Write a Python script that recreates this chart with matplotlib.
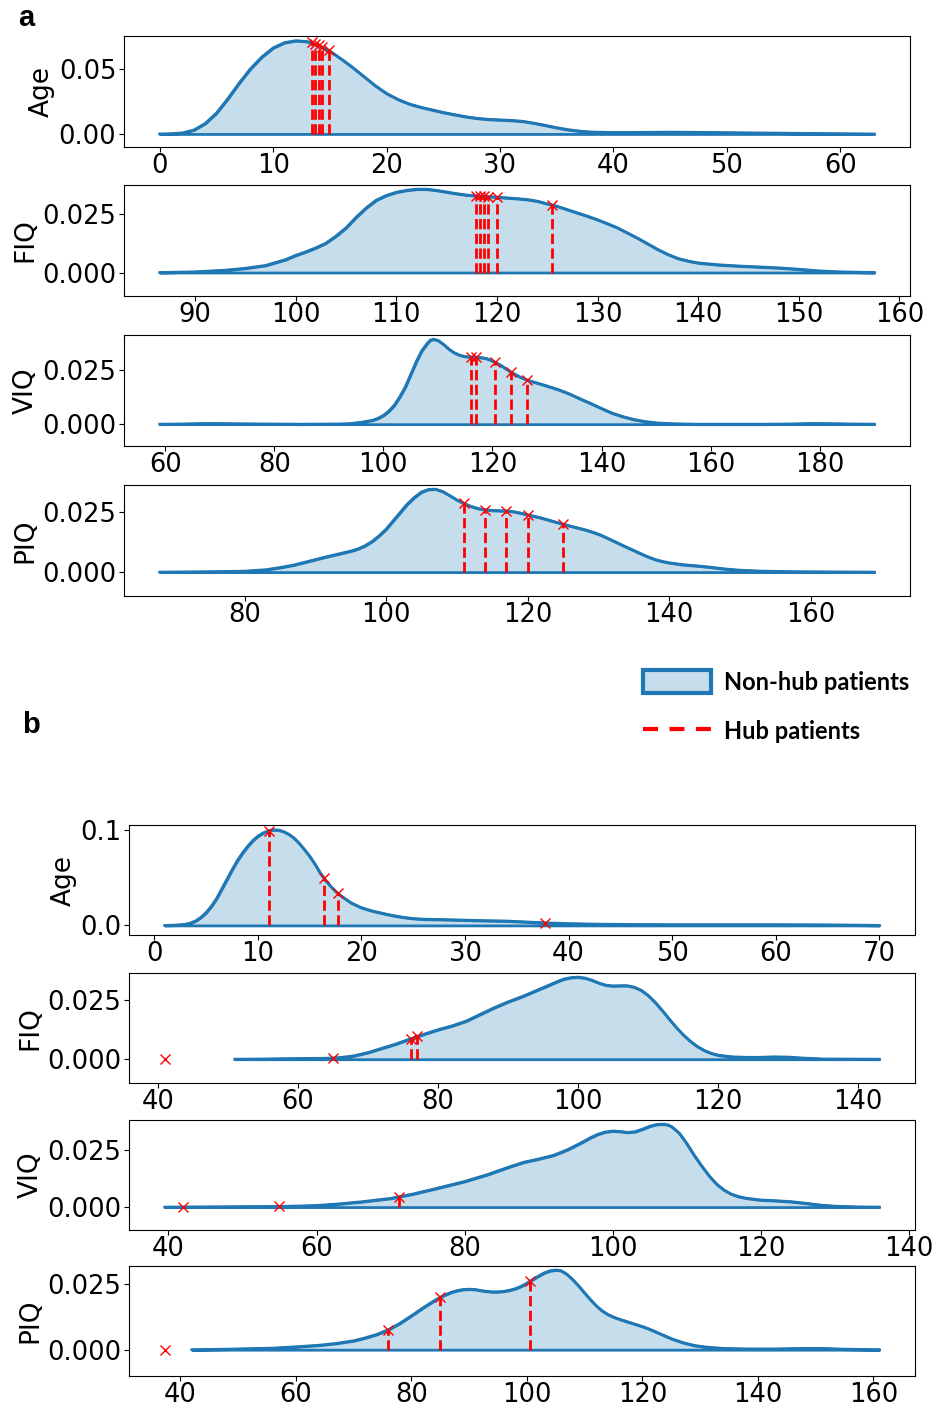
import matplotlib.pyplot as plt
from matplotlib.patches import Patch
from matplotlib.lines import Line2D

# Density curves (non-hub patients) and hub patient values -----------------

# cohort a
a_age_x = [0, 1, 2, 3, 4, 5, 6, 7, 8, 9, 10, 11, 12, 13, 14, 15, 16, 17, 18, 19, 20,
           21, 22, 23, 24, 25, 26, 27, 28, 29, 30, 31, 32, 33, 34, 35, 36, 37, 38, 40,
           42, 45, 48, 50, 55, 60, 63]
a_age_y = [0, 0.0002, 0.0008, 0.003, 0.008, 0.016, 0.027, 0.039, 0.050, 0.059, 0.066,
           0.0700, 0.0715, 0.0708, 0.068, 0.0635, 0.0575, 0.051, 0.044, 0.037, 0.031,
           0.0265, 0.023, 0.0205, 0.0185, 0.0165, 0.0148, 0.0132, 0.012, 0.0112, 0.0108,
           0.0104, 0.0097, 0.0083, 0.0066, 0.0048, 0.0033, 0.0022, 0.0015, 0.0011,
           0.0012, 0.0014, 0.0012, 0.001, 0.0006, 0.0002, 0]
a_age_hub_x = [13.4, 13.7, 14.0, 14.3, 14.9]
a_age_hub_y = [0.0701, 0.0692, 0.0680, 0.0667, 0.0640]

a_fiq_x = [86.5, 90, 93, 95, 97, 99, 100, 101, 102, 103, 104, 105, 106, 107, 108, 109,
           110, 111, 112, 113, 114, 115, 116, 117, 118, 119, 120, 121, 122, 123, 124,
           125, 126, 127, 128, 129, 130, 131, 132, 133, 134, 135, 136, 137, 138, 139,
           140, 142, 144, 146, 148, 150, 152, 154, 157.5]
a_fiq_y = [0, 0.0003, 0.001, 0.0018, 0.003, 0.0055, 0.0073, 0.0088, 0.0105, 0.0125,
           0.0155, 0.019, 0.0235, 0.0275, 0.0308, 0.0328, 0.0342, 0.035, 0.0355, 0.0355,
           0.035, 0.0343, 0.0336, 0.033, 0.0327, 0.0324, 0.0321, 0.0318, 0.0315, 0.0311,
           0.0304, 0.0293, 0.0282, 0.0268, 0.0254, 0.024, 0.0225, 0.0208, 0.019, 0.0168,
           0.0146, 0.0122, 0.0098, 0.0077, 0.006, 0.0049, 0.0041, 0.0033, 0.0028, 0.0024,
           0.002, 0.0014, 0.0007, 0.0003, 0]
a_fiq_hub_x = [117.9, 118.3, 118.7, 119.1, 120.0, 125.5]
a_fiq_hub_y = [0.0327, 0.0326, 0.0325, 0.0323, 0.0321, 0.0288]

a_viq_x = [59, 63, 67, 70, 73, 78, 85, 92, 94, 96, 98, 99, 100, 101, 102, 103, 104, 105,
           106, 107, 108, 108.6, 109.2, 110, 111, 112, 113, 114, 115, 116, 117, 118, 119,
           120, 121, 122, 123, 124, 125, 126, 127, 128, 130, 132, 134, 136, 138, 140,
           142, 144, 146, 148, 150, 153, 157, 170, 175, 178, 180, 183, 186, 190]
a_viq_y = [0, 0.0001, 0.0003, 0.0003, 0.0002, 0.0001, 0, 0.0001, 0.0003, 0.0009, 0.0018,
           0.0027, 0.004, 0.006, 0.0087, 0.0125, 0.017, 0.0227, 0.0285, 0.0335, 0.0369,
           0.0385, 0.0389, 0.0384, 0.0366, 0.0344, 0.0327, 0.0316, 0.031, 0.0308, 0.0307,
           0.0305, 0.03, 0.029, 0.0277, 0.0262, 0.0245, 0.023, 0.0217, 0.0206, 0.0197,
           0.019, 0.0175, 0.0159, 0.014, 0.0117, 0.0095, 0.0072, 0.005, 0.0034, 0.0021,
           0.0012, 0.0006, 0.0002, 0, 0, 0.0001, 0.0003, 0.0003, 0.0002, 0.0001, 0]
a_viq_hub_x = [116.0, 117.0, 120.4, 123.4, 126.3]
a_viq_hub_y = [0.0308, 0.0307, 0.0285, 0.0239, 0.0203]

a_piq_x = [68, 72, 76, 80, 83, 85, 87, 89, 91, 93, 95, 96, 97, 98, 99, 100, 101, 102,
           103, 104, 105, 106, 107, 108, 109, 110, 111, 112, 113, 114, 115, 116, 117,
           118, 119, 120, 121, 122, 124, 126, 128, 129, 130, 131, 132, 134, 136, 137,
           138, 139, 140, 142, 144, 146, 148, 150, 153, 157, 162, 169]
a_piq_y = [0, 0.0001, 0.0002, 0.0004, 0.001, 0.0019, 0.003, 0.0045, 0.006, 0.0074,
           0.0088, 0.0097, 0.011, 0.0128, 0.0152, 0.018, 0.0215, 0.025, 0.0285, 0.0313,
           0.0335, 0.0346, 0.0347, 0.0337, 0.032, 0.0302, 0.0287, 0.0275, 0.0266, 0.0261,
           0.0258, 0.0257, 0.0256, 0.0253, 0.0247, 0.024, 0.0233, 0.0226, 0.0209, 0.0193,
           0.0178, 0.0169, 0.0159, 0.0146, 0.0132, 0.0104, 0.0077, 0.0064, 0.0053,
           0.0045, 0.0039, 0.0031, 0.0026, 0.002, 0.0013, 0.0008, 0.0004, 0.0002,
           0.0001, 0]
a_piq_hub_x = [111, 114, 117, 120, 125]
a_piq_hub_y = [0.0287, 0.0261, 0.0256, 0.0240, 0.0201]

# cohort b
b_age_x = [1, 2, 3, 3.5, 4, 4.5, 5, 5.5, 6, 6.5, 7, 7.5, 8, 8.5, 9, 9.5, 10, 10.5, 11,
           11.5, 12, 12.5, 13, 13.5, 14, 14.5, 15, 15.5, 16, 16.5, 17, 17.5, 18, 19, 20,
           21, 22, 23, 24, 25, 26, 28, 30, 32, 34, 36, 38, 40, 43, 46, 50, 60, 65, 68, 70]
b_age_y = [0, 0.0003, 0.0012, 0.0025, 0.0048, 0.0085, 0.0135, 0.02, 0.028, 0.038, 0.048,
           0.058, 0.0675, 0.0755, 0.0825, 0.0885, 0.0932, 0.0965, 0.0988, 0.0998, 0.0995,
           0.0978, 0.095, 0.091, 0.0855, 0.079, 0.072, 0.064, 0.055, 0.0475, 0.041,
           0.0355, 0.031, 0.0235, 0.0185, 0.0152, 0.0127, 0.0104, 0.0085, 0.0072, 0.0065,
           0.0061, 0.0055, 0.005, 0.0046, 0.0036, 0.0026, 0.0019, 0.0013, 0.001, 0.0008,
           0.0008, 0.0006, 0.0003, 0]
b_age_hub_x = [11.1, 16.4, 17.7, 37.7]
b_age_hub_y = [0.0990, 0.0490, 0.0340, 0.0028]

b_fiq_x = [51, 55, 60, 64, 66, 68, 70, 72, 74, 76, 78, 80, 82, 84, 86, 88, 90, 92, 94,
           96, 97, 98, 99, 100, 101, 102, 103, 104, 105, 106, 107, 108, 109, 110, 111,
           112, 113, 114, 115, 116, 117, 118, 119, 120, 122, 124, 126, 128, 130, 132,
           135, 143]
b_fiq_y = [0, 0.0001, 0.0003, 0.0004, 0.0007, 0.0014, 0.0028, 0.0046, 0.0064, 0.0085,
           0.0105, 0.0124, 0.014, 0.016, 0.0188, 0.0216, 0.0241, 0.0263, 0.0288, 0.0313,
           0.0326, 0.0337, 0.0343, 0.0345, 0.0341, 0.0332, 0.032, 0.0311, 0.0308, 0.0309,
           0.0309, 0.0303, 0.029, 0.0268, 0.0239, 0.0205, 0.0169, 0.0134, 0.0103, 0.0076,
           0.0054, 0.0037, 0.0025, 0.0017, 0.001, 0.0008, 0.0008, 0.001, 0.0009, 0.0005,
           0.0001, 0]
b_fiq_hub_x = [41, 65, 76.1, 77.0]
b_fiq_hub_y = [0, 0.0005, 0.0086, 0.0096]

b_viq_x = [39.5, 45, 50, 55, 58, 60, 63, 66, 70, 73, 76, 80, 83, 86, 88, 90, 92, 94, 96,
           97, 98, 99, 100, 101, 102, 103, 104, 105, 106, 107, 107.6, 108, 109, 110, 111,
           112, 113, 114, 115, 116, 117, 118, 120, 122, 124, 126, 128, 130, 133, 136]
b_viq_y = [0, 0.0001, 0.0002, 0.0003, 0.0005, 0.0007, 0.0014, 0.0023, 0.0038, 0.0057,
           0.008, 0.0112, 0.0141, 0.0175, 0.0196, 0.021, 0.0226, 0.0252, 0.0285, 0.0303,
           0.0318, 0.0328, 0.0332, 0.033, 0.0326, 0.0329, 0.034, 0.0353, 0.0361, 0.0362,
           0.0357, 0.035, 0.0322, 0.0277, 0.0226, 0.018, 0.0137, 0.0101, 0.0075, 0.0057,
           0.0046, 0.0039, 0.0031, 0.0028, 0.0024, 0.0017, 0.0009, 0.0004, 0.0001, 0]
b_viq_hub_x = [42, 55, 71.2]
b_viq_hub_y = [0, 0.0003, 0.0043]

b_piq_x = [42, 48, 52, 56, 60, 64, 67, 70, 72, 74, 76, 78, 80, 82, 84, 85, 86, 87, 88,
           89, 90, 91, 92, 93, 94, 95, 96, 97, 98, 99, 100, 101, 102, 103, 104, 105,
           105.8, 106.5, 107, 108, 109, 110, 111, 112, 113, 114, 115, 116, 117, 118, 119,
           120, 121, 122, 123, 125, 127, 129, 131, 134, 138, 143, 148, 151, 155, 161]
b_piq_y = [0, 0.0002, 0.0004, 0.0006, 0.0011, 0.0017, 0.0024, 0.0034, 0.0045, 0.0058,
           0.0076, 0.01, 0.0129, 0.0159, 0.0187, 0.02, 0.021, 0.0219, 0.0225, 0.0229,
           0.023, 0.0229, 0.0225, 0.0222, 0.022, 0.022, 0.0222, 0.0226, 0.0232, 0.0241,
           0.0253, 0.0267, 0.028, 0.0292, 0.03, 0.0303, 0.0301, 0.0293, 0.0285, 0.0265,
           0.0241, 0.0215, 0.019, 0.0167, 0.0148, 0.0134, 0.0124, 0.0116, 0.0109, 0.0102,
           0.0095, 0.0088, 0.008, 0.0071, 0.0061, 0.0042, 0.0027, 0.0016, 0.001, 0.0005,
           0.0003, 0.0003, 0.0005, 0.0005, 0.0002, 0]
b_piq_hub_x = [37.3, 75.9, 84.9, 100.6]
b_piq_hub_y = [0, 0.0075, 0.0199, 0.0261]

labels = ['Age', 'FIQ', 'VIQ', 'PIQ']

#-------------------------------------------------------------------------

BLUE = '#1f77b4'
FILL = (0.12, 0.47, 0.71, 0.25)
W, H = 935, 1405

plt.rcParams['font.family'] = 'DejaVu Sans'

fig = plt.figure(figsize=(W / 100, H / 100), dpi=100)


# axes placed by pixel box (left, top, right, bottom)
def add_box(l, t, r, b):
    return fig.add_axes([l / W, 1 - b / H, (r - l) / W, (b - t) / H])


def draw_kde(ax, x, y, hub_x, hub_y, name):
    ax.fill_between(x, y, facecolor=FILL, edgecolor=BLUE, linewidth=2)
    ax.plot(x, y, color=BLUE, lw=2, solid_joinstyle='round')
    ax.vlines(hub_x, 0, hub_y, colors='red', linestyles='--', lw=2)
    ax.plot(hub_x, hub_y, 'x', color='red', ms=7, mew=1)
    ax.set_ylim(bottom=-0.01)
    ax.set_ylabel(name, fontsize=19, labelpad=2.5)
    ax.tick_params(labelsize=18.5, length=3.5)
    ax.tick_params(axis='x', pad=0.5)
    ax.tick_params(axis='y', pad=2)


# Panel a ----------------------------------------------------------------
a_data = [(a_age_x, a_age_y, a_age_hub_x, a_age_hub_y),
          (a_fiq_x, a_fiq_y, a_fiq_hub_x, a_fiq_hub_y),
          (a_viq_x, a_viq_y, a_viq_hub_x, a_viq_hub_y),
          (a_piq_x, a_piq_y, a_piq_hub_x, a_piq_hub_y)]
a_tops = [36, 185, 335, 485]
for top, d, name in zip(a_tops, a_data, labels):
    ax = add_box(124, top, 910, top + 111)
    draw_kde(ax, *d, name)

# Panel b ----------------------------------------------------------------
b_data = [(b_age_x, b_age_y, b_age_hub_x, b_age_hub_y),
          (b_fiq_x, b_fiq_y, b_fiq_hub_x, b_fiq_hub_y),
          (b_viq_x, b_viq_y, b_viq_hub_x, b_viq_hub_y),
          (b_piq_x, b_piq_y, b_piq_hub_x, b_piq_hub_y)]
b_tops = [825, 973, 1120, 1266]
for top, d, name in zip(b_tops, b_data, labels):
    ax = add_box(129, top, 915, top + 110)
    draw_kde(ax, *d, name)

panel_font = {'family': 'Liberation Sans', 'size': 21, 'weight': 'bold'}
fig.text(26 / W, 1 - 18 / H, 'a', fontdict=panel_font, ha='center', va='center')
fig.text(31 / W, 1 - 725 / H, 'b', fontdict=panel_font, ha='center', va='center')

# Legend -----------------------------------------------------------------
handles = [Patch(facecolor=FILL, edgecolor=BLUE, linewidth=3),
           Line2D([], [], color='red', lw=3, linestyle=(0, (3.6, 2.75)))]
fig.legend(handles, ['Non-hub patients', 'Hub patients'],
           loc='upper left', bbox_to_anchor=(643 / W, 1 - 670 / H),
           frameon=False, prop={'family': 'Lato', 'weight': 'bold', 'size': 17},
           borderpad=0, borderaxespad=0,
           handlelength=2.88, handleheight=1.15, labelspacing=1.08, handletextpad=0.55)

plt.savefig('out.png', dpi=100)
